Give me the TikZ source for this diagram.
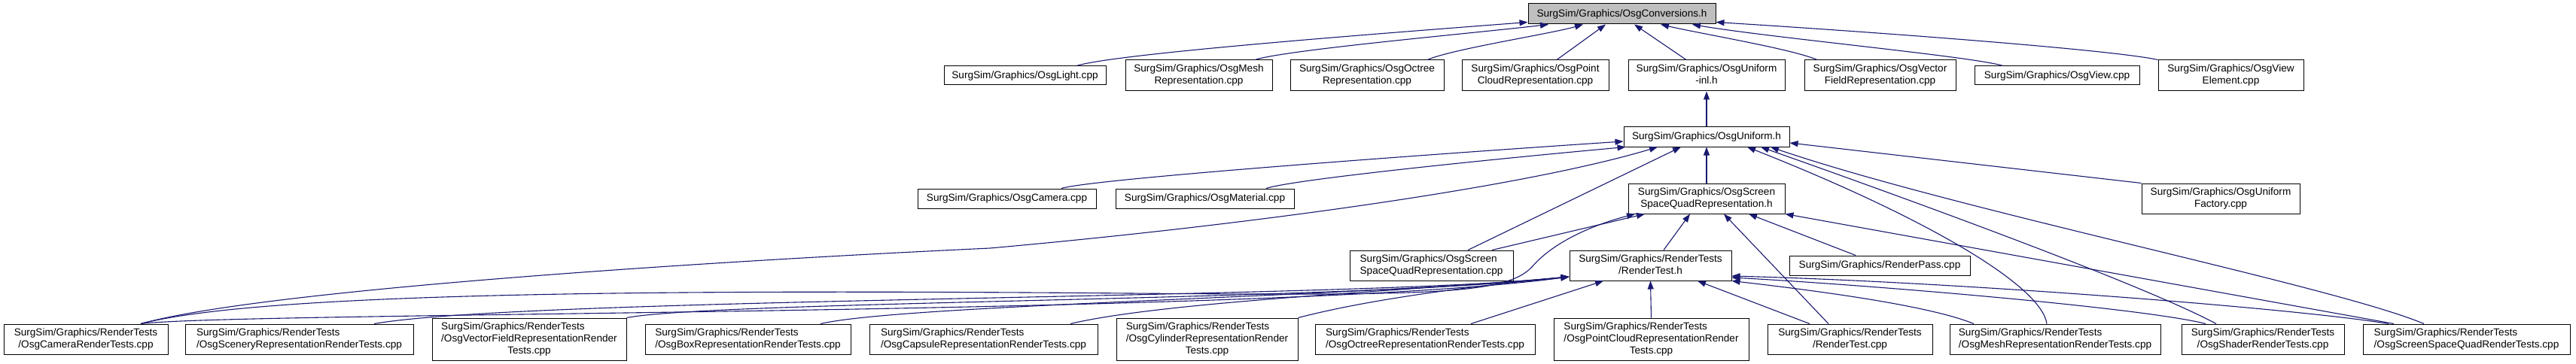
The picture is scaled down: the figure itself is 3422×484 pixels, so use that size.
\documentclass[tikz,border=0pt]{standalone}
\usepackage{fontspec}
\setmainfont{Liberation Sans}
\usetikzlibrary{arrows.meta}
\definecolor{edgec}{HTML}{191970}
\definecolor{topfill}{HTML}{BFBFBF}
\newcommand\twol[2]{\begin{tabular}{@{}l@{}}#1\\\multicolumn{1}{@{}c@{}}{#2}\end{tabular}}
\newcommand\threel[3]{\begin{tabular}{@{}l@{}}#1\\#2\\\multicolumn{1}{@{}c@{}}{#3}\end{tabular}}
\begin{document}
\begin{tikzpicture}[x=1pt,y=-1pt,
  box/.style={draw=black, line width=1pt, fill=white, inner sep=0pt,
    font=\fontsize{13.6}{16}\selectfont},
  one/.style={box, minimum height=26pt},
  two/.style={box, minimum height=40pt},
  three/.style={box, minimum height=56pt},
  edge/.style={draw=edgec, line width=1.1pt, -{Triangle[length=11pt,width=8pt]}}]
\fill[white] (0,0) rectangle (3422,484);
\useasboundingbox (0,0) rectangle (3422,484);
% row 1
\node[one, fill=topfill, minimum width=249pt, minimum height=27pt] (conv) at (2154.5,18.5) {SurgSim/Graphics/OsgConversions.h};
% row 2
\node[one, minimum width=215pt, minimum height=25pt] (light) at (1361.5,100.5) {SurgSim/Graphics/OsgLight.cpp};
\node[two, minimum width=195pt, minimum height=41pt] (meshrep) at (1592.5,100.5) {\twol{SurgSim/Graphics/OsgMesh}{Representation.cpp}};
\node[two, minimum width=204pt, minimum height=41pt] (octrep) at (1816,100.5) {\twol{SurgSim/Graphics/OsgOctree}{Representation.cpp}};
\node[two, minimum width=195pt, minimum height=41pt] (pcrep) at (2039.5,100.5) {\twol{SurgSim/Graphics/OsgPoint}{CloudRepresentation.cpp}};
\node[two, minimum width=208pt, minimum height=41pt] (uninl) at (2267,100.5) {\twol{SurgSim/Graphics/OsgUniform}{-inl.h}};
\node[two, minimum width=201pt, minimum height=41pt] (vecrep) at (2497.5,100.5) {\twol{SurgSim/Graphics/OsgVector}{FieldRepresentation.cpp}};
\node[one, minimum width=219pt, minimum height=25pt] (view) at (2732.5,100.5) {SurgSim/Graphics/OsgView.cpp};
\node[two, minimum width=193pt, minimum height=41pt] (viewel) at (2963.5,100.5) {\twol{SurgSim/Graphics/OsgView}{Element.cpp}};
% row 3
\node[one, minimum width=220pt] (uni) at (2267,182) {SurgSim/Graphics/OsgUniform.h};
% row 4
\node[one, minimum width=237pt] (cam) at (1337.5,264) {SurgSim/Graphics/OsgCamera.cpp};
\node[one, minimum width=237pt] (mat) at (1600.5,264) {SurgSim/Graphics/OsgMaterial.cpp};
\node[two, minimum width=208pt] (ssqh) at (2267,264) {\twol{SurgSim/Graphics/OsgScreen}{SpaceQuadRepresentation.h}};
\node[two, minimum width=210pt] (unifac) at (2950,264) {\twol{SurgSim/Graphics/OsgUniform}{Factory.cpp}};
% row 5
\node[two, minimum width=217pt] (ssqcpp) at (1901.5,353) {\twol{SurgSim/Graphics/OsgScreen}{SpaceQuadRepresentation.cpp}};
\node[two, minimum width=215pt] (rth) at (2192.5,353) {\twol{SurgSim/Graphics/RenderTests}{/RenderTest.h}};
\node[one, minimum width=240pt] (rpass) at (2497,353) {SurgSim/Graphics/RenderPass.cpp};
% row 6
\node[two, minimum width=218pt] (camrt) at (114,451) {\twol{SurgSim/Graphics/RenderTests}{/OsgCameraRenderTests.cpp}};
\node[two, minimum width=303pt] (scenrt) at (397.5,451) {\twol{SurgSim/Graphics/RenderTests}{/OsgSceneryRepresentationRenderTests.cpp}};
\node[three, minimum width=258pt] (vecrt) at (703,451) {\threel{SurgSim/Graphics/RenderTests}{/OsgVectorFieldRepresentationRender}{Tests.cpp}};
\node[two, minimum width=273pt] (boxrt) at (993.5,451) {\twol{SurgSim/Graphics/RenderTests}{/OsgBoxRepresentationRenderTests.cpp}};
\node[two, minimum width=303pt] (capsrt) at (1306.5,451) {\twol{SurgSim/Graphics/RenderTests}{/OsgCapsuleRepresentationRenderTests.cpp}};
\node[three, minimum width=241pt] (cylrt) at (1603.5,451) {\threel{SurgSim/Graphics/RenderTests}{/OsgCylinderRepresentationRender}{Tests.cpp}};
\node[two, minimum width=292pt] (octrt) at (1893,451) {\twol{SurgSim/Graphics/RenderTests}{/OsgOctreeRepresentationRenderTests.cpp}};
\node[three, minimum width=259pt] (pcrt) at (2193.5,451) {\threel{SurgSim/Graphics/RenderTests}{/OsgPointCloudRepresentationRender}{Tests.cpp}};
\node[two, minimum width=219pt] (rtcpp) at (2457.5,451) {\twol{SurgSim/Graphics/RenderTests}{/RenderTest.cpp}};
\node[two, minimum width=280pt] (meshrt) at (2730,451) {\twol{SurgSim/Graphics/RenderTests}{/OsgMeshRepresentationRenderTests.cpp}};
\node[two, minimum width=216pt] (shadrt) at (3006,451) {\twol{SurgSim/Graphics/RenderTests}{/OsgShaderRenderTests.cpp}};
\node[two, minimum width=275pt] (ssqrt) at (3276.5,451) {\twol{SurgSim/Graphics/RenderTests}{/OsgScreenSpaceQuadRenderTests.cpp}};
% edges into OsgConversions.h
\draw[edge] ([xshift=68.5pt]light.north) .. controls (1480,72) and (1800,47) .. ([yshift=3pt]conv.south west);
\draw[edge] ([xshift=74.5pt]meshrep.north) .. controls (1710,66) and (1960,44) .. ([xshift=-97.5pt]conv.south);
\draw[edge] ([xshift=80pt]octrep.north) .. controls (1930,65) and (2060,45) .. ([xshift=-51.5pt]conv.south);
\draw[edge] ([xshift=28.5pt]pcrep.north) -- ([xshift=-21.5pt]conv.south);
\draw[edge] ([xshift=-27pt]uninl.north) -- ([xshift=16.5pt]conv.south);
\draw[edge] ([xshift=-83.5pt]vecrep.north) .. controls (2380,65) and (2260,45) .. ([xshift=51.5pt]conv.south);
\draw[edge] ([xshift=-71.5pt]view.north) .. controls (2620,75) and (2350,50) .. ([xshift=93.5pt]conv.south);
\draw[edge] (viewel.north west) .. controls (2800,65) and (2450,40) .. ([yshift=3pt]conv.south east);
% OsgUniform.h -> -inl.h
\draw[edge] (uni.north) -- (uninl.south);
% edges into OsgUniform.h
\draw[edge] ([xshift=72.5pt]cam.north) .. controls (1450,238) and (1900,205) .. ([yshift=-6pt]uni.west);
\draw[edge] ([xshift=81.5pt]mat.north) .. controls (1720,238) and (2000,210) .. ([xshift=3pt]uni.south west);
\draw[edge] ([xshift=73pt]camrt.north) .. controls (350,385) and (950,347) .. (1315,330) .. controls (1650,300) and (2020,250) .. ([xshift=-65pt]uni.south);
\draw[edge] ([xshift=48.5pt]ssqcpp.north) -- ([xshift=-34pt]uni.south);
\draw[edge] (ssqh.north) -- (uni.south);
\draw[edge] (unifac.north west) -- ([yshift=-8pt]uni.east);
\draw[edge] ([xshift=-11pt]meshrt.north) .. controls (2712,380) and (2560,290) .. ([xshift=54pt]uni.south);
\draw[edge] ([xshift=-62pt]shadrt.north) .. controls (2850,380) and (2550,270) .. ([xshift=72pt]uni.south);
\draw[edge] ([xshift=-56.5pt]ssqrt.north) .. controls (3100,380) and (2600,280) .. ([xshift=85pt]uni.south);
% edges into OsgScreenSpaceQuadRepresentation.h
\draw[edge] ([xshift=80.5pt]ssqcpp.north) -- ([xshift=-82pt]ssqh.south);
\draw[edge] ([xshift=73pt]camrt.north) .. controls (350,388) and (900,385) .. (1500,390) .. controls (1900,393) and (2000,392) .. (2035,355) .. controls (2065,320) and (2120,298) .. ([xshift=-95pt]ssqh.south);
\draw[edge] ([xshift=17.5pt]rth.north) -- ([xshift=-22pt]ssqh.south);
\draw[edge] ([xshift=-28.5pt]rtcpp.north) -- ([xshift=23pt]ssqh.south);
\draw[edge] ([xshift=-32pt]rpass.north) -- ([xshift=56pt]ssqh.south);
\draw[edge] ([xshift=-96.5pt]ssqrt.north) -- (ssqh.south east);
% edges into RenderTest.h
\draw[edge] ([xshift=73pt]camrt.north) .. controls (320,414) and (1700,420) .. ([yshift=-15pt]rth.west);
\draw[edge] ([xshift=99.5pt]scenrt.north) .. controls (700,395) and (1800,398) .. ([yshift=-15pt]rth.west);
\draw[edge] (vecrt.north east) .. controls (950,400) and (1800,400) .. ([yshift=-15pt]rth.west);
\draw[edge] ([xshift=96.5pt]boxrt.north) .. controls (1200,405) and (1800,395) .. ([yshift=-15pt]rth.west);
\draw[edge] ([xshift=115.5pt]capsrt.north) .. controls (1550,400) and (1900,385) .. ([yshift=-15pt]rth.west);
\draw[edge] (cylrt.north east) .. controls (1830,395) and (1980,378) .. ([yshift=-15pt]rth.west);
\draw[edge] ([xshift=61pt]octrt.north) -- ([xshift=-62.5pt]rth.south);
\draw[edge] (pcrt.north) -- (rth.south);
\draw[edge] ([xshift=-53.5pt]rtcpp.north) -- ([xshift=62.5pt]rth.south);
\draw[edge] ([xshift=-108pt]meshrt.north) .. controls (2560,405) and (2400,385) .. (rth.south east);
\draw[edge] ([xshift=-76pt]shadrt.north) .. controls (2850,410) and (2500,380) .. ([yshift=-16pt]rth.east);
\draw[edge] ([xshift=-103.5pt]ssqrt.north) .. controls (3050,410) and (2600,375) .. ([yshift=-14pt]rth.east);
\end{tikzpicture}
\end{document}
